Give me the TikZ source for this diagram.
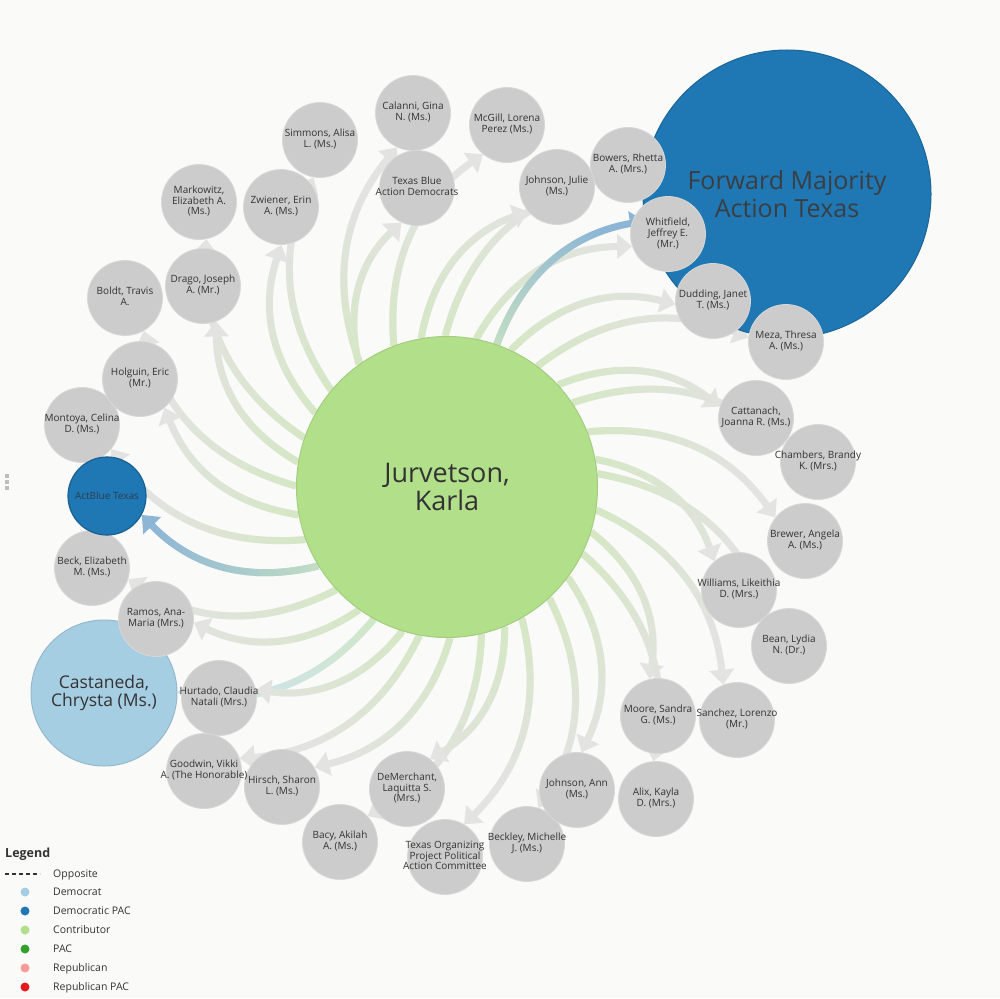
\documentclass[tikz,border=0pt]{standalone}
\usepackage{fontspec}
\setmainfont{Open Sans}
\usetikzlibrary{arrows.meta,fadings}

\definecolor{paper}{HTML}{FAFAF9}
\definecolor{contrib}{HTML}{B2DF8A}
\definecolor{demo}{HTML}{A6CEE3}
\definecolor{dempac}{HTML}{1F78B4}
\definecolor{pac}{HTML}{33A02C}
\definecolor{repub}{HTML}{FB9A99}
\definecolor{reppac}{HTML}{E31A1C}
\definecolor{other}{HTML}{CCCCCC}
\definecolor{otherline}{HTML}{D8D8D8}
\definecolor{ink}{HTML}{333333}
\definecolor{fmink}{HTML}{3A3E42}
\definecolor{abink}{HTML}{2C3E50}
\definecolor{handle}{HTML}{BDBDBD}
\definecolor{flowgray}{HTML}{E3E3E1}
\definecolor{flowgreen}{HTML}{D2E9BE}
\definecolor{flowblue}{HTML}{8DB6D6}
\definecolor{flowsky}{HTML}{CDE3EC}

\pgfdeclarelayer{paper}
\pgfdeclarelayer{flows}
\pgfsetlayers{paper,flows,main}

% green part of every flow fades out away from the hub
\pgfdeclareradialshading{hubramp}{\pgfpointorigin}{color(0bp)=(transparent!0); color(110bp)=(transparent!0); color(300bp)=(transparent!100); color(520bp)=(transparent!100)}
\pgfdeclarefading{hubfade}{\pgfuseshading{hubramp}}

\newcommand{\who}[1]{\makebox[0pt]{\begin{tabular}{@{}c@{}}#1\end{tabular}}}

\tikzset{
  person/.style={circle, fill=other, draw=otherline, line width=0.8pt, minimum size=75pt, inner sep=0pt, text=ink, font=\fontsize{10}{10.7}\selectfont},
  flow/.style={line width=7pt, bend left=30, -{Triangle[length=15pt,width=24pt]}},
  glow/.style={line width=7pt, bend left=30, flowgreen, shorten >=16pt, path fading=hubfade, fit fading=false, fading transform={shift={(447,487)}}},
  dot/.style={circle, minimum size=9pt, inner sep=0pt},
  key/.style={anchor=base west, inner sep=0pt, text=ink, font=\fontsize{10.5}{12}\selectfont},
}

\begin{document}
\begin{tikzpicture}[x=1pt, y=-1pt]
\begin{pgfonlayer}{paper}
  \fill[paper] (0,0) rectangle (1000,998);
  \foreach \y in {474,480,486} {
    \fill[handle] (4.5,\y) rectangle (8.5,\y+4);
  }
\end{pgfonlayer}
\useasboundingbox (0,0) rectangle (1000,998);

% large nodes
\node[circle, fill=dempac, draw=dempac!85!black, line width=1pt, minimum size=288pt, align=center, text=fmink, font=\fontsize{25}{28}\selectfont] (fmat) at (787,194) {Forward Majority\\Action Texas};
\node[circle, fill=demo, draw=demo!90!black, line width=1pt, minimum size=146pt, align=center, text=ink, font=\fontsize{17.5}{18}\selectfont] (castaneda) at (104,693) {Castaneda,\\Chrysta (Ms.)};
\node[circle, fill=contrib, draw=contrib!92!black, line width=1pt, minimum size=301pt, align=center, text=ink, font=\fontsize{27}{28}\selectfont] (hub) at (447,487) {Jurvetson,\\Karla};

% contributors
\foreach \n/\x/\y/\t in {
  calanni/413/113/{Calanni, Gina\\N. (Ms.)},
  tbad/417/188/{Texas Blue\\Action Democrats},
  mcgill/507/125/{McGill, Lorena\\Perez (Ms.)},
  simmons/320/140/{Simmons, Alisa\\L. (Ms.)},
  zwiener/281/207/{Zwiener, Erin\\A. (Ms.)},
  markowitz/199/202/{Markowitz,\\Elizabeth A.\\(Ms.)},
  drago/203/286/{Drago, Joseph\\A. (Mr.)},
  boldt/125/298/{Boldt, Travis\\A.},
  montoya/82/425/{Montoya, Celina\\D. (Ms.)},
  holguin/140/379/{Holguin, Eric\\(Mr.)},
  beck/92/568/{Beck, Elizabeth\\M. (Ms.)},
  ramos/156/619/{Ramos, Ana-\\Maria (Mrs.)},
  hurtado/219/698/{Hurtado, Claudia\\Natali (Mrs.)},
  hirsch/282/787/{Hirsch, Sharon\\L. (Ms.)},
  goodwin/204/771/{Goodwin, Vikki\\A. (The Honorable)},
  bacy/340/842/{Bacy, Akilah\\A. (Ms.)},
  demerchant/407/789/{DeMerchant,\\Laquitta S.\\(Mrs.)},
  topac/445/857/{Texas Organizing\\Project Political\\Action Committee},
  beckley/527/844/{Beckley, Michelle\\J. (Ms.)},
  johnsonann/577/790/{Johnson, Ann\\(Ms.)},
  moore/658/716/{Moore, Sandra\\G. (Ms.)},
  alix/656/799/{Alix, Kayla\\D. (Mrs.)},
  sanchez/737/720/{Sanchez, Lorenzo\\(Mr.)},
  williams/739/590/{Williams, Likeithia\\D. (Mrs.)},
  bean/789/646/{Bean, Lydia\\N. (Dr.)},
  brewer/805/541/{Brewer, Angela\\A. (Ms.)},
  cattanach/756/418/{Cattanach,\\Joanna R. (Ms.)},
  chambers/818/462/{Chambers, Brandy\\K. (Mrs.)},
  meza/786/342/{Meza, Thresa\\A. (Ms.)},
  dudding/713/301/{Dudding, Janet\\T. (Ms.)},
  whitfield/668/234/{Whitfield,\\Jeffrey E.\\(Mr.)},
  bowers/628/165/{Bowers, Rhetta\\A. (Mrs.)},
  johnsonjulie/557/187/{Johnson, Julie\\(Ms.)}} {
  \node[person] (\n) at (\x,\y) {\who{\t}};
}
\node[circle, fill=dempac, draw=dempac!80!black, line width=1.2pt, minimum size=78pt, inner sep=0pt, text=abink, font=\fontsize{10}{11}\selectfont] (actblue) at (107,496) {ActBlue Texas};

% flows, behind the nodes
\begin{pgfonlayer}{flows}
\foreach \n/\c in {calanni/flowgray, tbad/flowgray, mcgill/flowgray, simmons/flowgray,
  zwiener/flowgray, markowitz/flowgray, drago/flowgray, boldt/flowgray, montoya/flowgray,
  holguin/flowgray, actblue/flowblue, beck/flowgray, ramos/flowgray, castaneda/flowsky,
  hurtado/flowgray, hirsch/flowgray, goodwin/flowgray, bacy/flowgray, demerchant/flowgray,
  topac/flowgray, beckley/flowgray, johnsonann/flowgray, moore/flowgray, alix/flowgray,
  sanchez/flowgray, williams/flowgray, bean/flowgray, brewer/flowgray, cattanach/flowgray,
  chambers/flowgray, meza/flowgray, dudding/flowgray, whitfield/flowgray, fmat/flowblue,
  bowers/flowgray, johnsonjulie/flowgray} {
  \draw[flow, \c] (hub) to (\n);
  \draw[glow] (hub) to (\n);
}
\end{pgfonlayer}

% legend
\node[key, font=\bfseries\fontsize{12.5}{14}\selectfont] (legend) at (5,857) {Legend};
\coordinate (oppa) at (5,874);
\coordinate (oppb) at (40,874);
\draw[ink, line width=1.3pt, dash pattern=on 4pt off 3pt] (oppa) -- (oppb);
\node[key] (oppkey) at (53,877.7) {Opposite};
\foreach \i/\y/\c/\t in {1/892/demo/Democrat, 2/911/dempac/Democratic PAC, 3/930/contrib/Contributor,
  4/949/pac/PAC, 5/968/repub/Republican, 6/987/reppac/Republican PAC} {
  \node[dot, fill=\c] (dot\i) at (25,\y) {};
  \node[key] (key\i) at (53,\y+3.7) {\t};
}
\end{tikzpicture}
\end{document}
